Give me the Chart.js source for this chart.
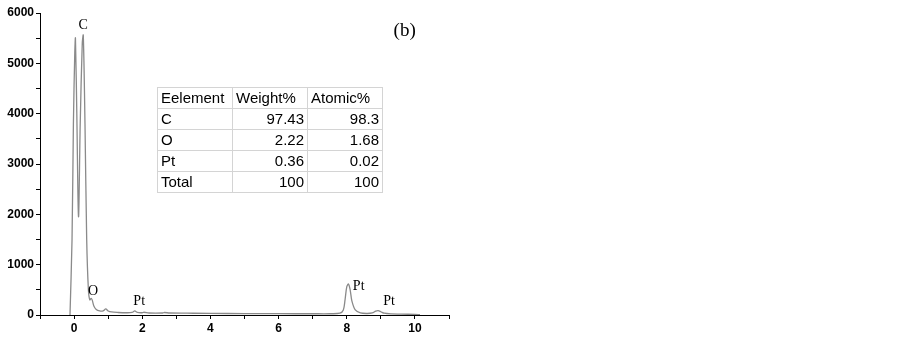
<!DOCTYPE html>
<html>
<head>
<meta charset="utf-8">
<script src="https://cdn.jsdelivr.net/npm/chart.js@4.4.0/dist/chart.umd.min.js"></script>
<style>
  body { margin: 0; background: #fff; }
  #wrap { position: relative; width: 900px; height: 339px; }
  #table {
    position: absolute; left: 157px; top: 87px;
    border-collapse: collapse; font-family: "Liberation Sans", Arial, sans-serif;
    font-size: 15px; color: #000; border: 1px solid #a0a0a0;
  }
  #table td { border: 1px solid #d4d4d4; height: 20px; padding: 0 3px; line-height: 20px; }
  #table td.n { text-align: right; }
</style>
</head>
<body>
<div id="wrap">
  <canvas id="spec" width="900" height="339"></canvas>
  <table id="table"></table>
</div>
<script>
// spectrum (energy keV, counts)
const energy = [-0.12, -0.06, -0.02, 0.02, 0.04, 0.08, 0.13, 0.18, 0.24, 0.27, 0.32, 0.37, 0.42, 0.46, 0.5, 0.53, 0.58, 0.65, 0.75, 0.85, 0.93, 1.0, 1.1, 1.3, 1.5, 1.7, 1.78, 1.86, 2.0, 2.05, 2.2, 2.6, 2.65, 2.8, 3.5, 4.5, 5.5, 6.5, 7.0, 7.5, 7.8, 7.9, 7.95, 8.0, 8.05, 8.1, 8.15, 8.25, 8.4, 8.6, 8.75, 8.85, 8.92, 9.0, 9.1, 9.3, 9.6, 10.0, 10.15];
const counts = [0, 1500, 3800, 5200, 5500, 4000, 1950, 3800, 5400, 5560, 3800, 1500, 500, 300, 330, 300, 180, 110, 80, 80, 120, 80, 60, 50, 45, 50, 80, 50, 45, 55, 40, 40, 50, 40, 35, 30, 28, 25, 25, 25, 35, 100, 300, 560, 615, 500, 280, 100, 40, 30, 40, 75, 85, 65, 35, 22, 18, 12, 8];

// peak labels
const peakNames = ['C', 'O', 'Pt', 'Pt', 'Pt'];
const peakX = [0.27, 0.56, 1.91, 8.35, 9.24];
const peakY = [5765, 477, 278, 560, 278];

// composition table
const tableHead = ['Eelement', 'Weight%', 'Atomic%'];
const elements = ['C', 'O', 'Pt', 'Total'];
const weightPct = ['97.43', '2.22', '0.36', '100'];
const atomicPct = ['98.3', '1.68', '0.02', '100'];

// build the table
const table = document.getElementById('table');
let html = '<tr>' + tableHead.map(h => '<td style="width:68px">' + h + '</td>').join('') + '</tr>';
elements.forEach((el, i) => {
  html += '<tr><td>' + el + '</td><td class="n">' + weightPct[i] + '</td><td class="n">' + atomicPct[i] + '</td></tr>';
});
table.innerHTML = html;

const points = energy.map((x, i) => ({ x: x, y: counts[i] }));

// draws the peak names and the (b) tag
const labelPlugin = {
  id: 'peakLabels',
  afterDatasetsDraw(chart) {
    const c = chart.ctx;
    const xs = chart.scales.x, ys = chart.scales.y;
    c.save();
    c.fillStyle = '#000';
    c.textAlign = 'center';
    c.textBaseline = 'middle';
    c.font = '14px "Liberation Serif", "Times New Roman", serif';
    peakNames.forEach((n, i) => {
      c.fillText(n, xs.getPixelForValue(peakX[i]), ys.getPixelForValue(peakY[i]));
    });
    c.font = '19px "Liberation Serif", "Times New Roman", serif';
    c.fillText('(b)', xs.getPixelForValue(9.7), ys.getPixelForValue(5646));
    c.restore();
  }
};

new Chart(document.getElementById('spec'), {
  type: 'line',
  data: {
    datasets: [{
      data: points,
      borderColor: '#8a8a8a',
      borderWidth: 1.3,
      pointRadius: 0,
      tension: 0.3,
      fill: false
    }]
  },
  options: {
    responsive: false,
    animation: false,
    plugins: { legend: { display: false }, tooltip: { enabled: false } },
    layout: { padding: { top: 13, right: 451, left: 0, bottom: 0 } },
    scales: {
      x: {
        type: 'linear',
        min: -1, max: 11,
        afterFit: s => { s.height = 24; },
        border: { color: '#000', width: 1 },
        grid: { drawOnChartArea: false, drawTicks: true, tickLength: 4, color: '#000' },
        ticks: {
          stepSize: 1,
          autoSkip: false,
          maxRotation: 0,
          padding: 2,
          color: '#000',
          font: { family: '"Liberation Sans", Arial, sans-serif', size: 12, weight: 'bold' },
          callback: v => (v >= 0 && v <= 10 && v % 2 === 0) ? String(v) : ''
        }
      },
      y: {
        min: 0, max: 6000,
        afterFit: s => { s.width = 40; },
        border: { color: '#000', width: 1 },
        grid: { drawOnChartArea: false, drawTicks: true, tickLength: 4, color: '#000' },
        ticks: {
          stepSize: 500,
          autoSkip: false,
          padding: 2,
          color: '#000',
          font: { family: '"Liberation Sans", Arial, sans-serif', size: 12, weight: 'bold' },
          callback: v => (v % 1000 === 0) ? String(v) : ''
        }
      }
    }
  },
  plugins: [labelPlugin]
});
</script>
</body>
</html>
